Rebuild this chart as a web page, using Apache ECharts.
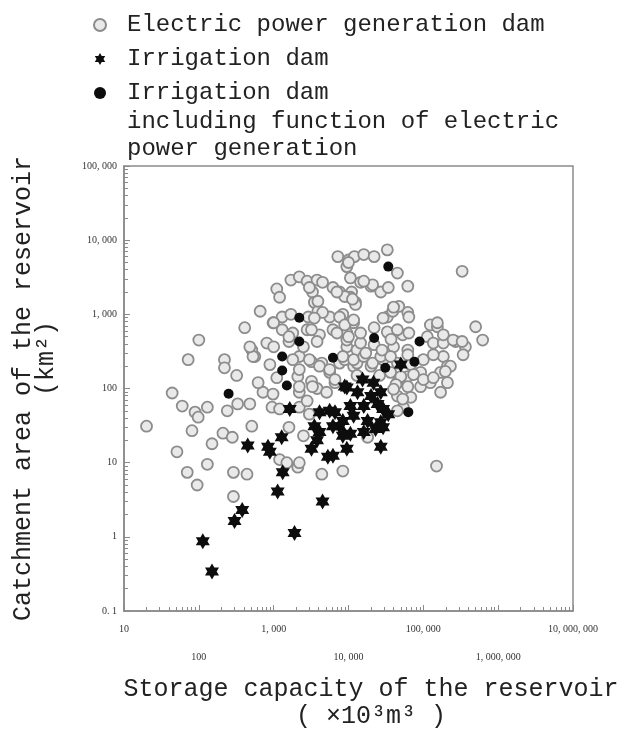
<!DOCTYPE html>
<html>
<head>
<meta charset="utf-8">
<title>Storage capacity vs catchment area of reservoirs</title>
<script src="https://cdn.jsdelivr.net/npm/echarts@6/dist/echarts.min.js"></script>
<style>
html, body { margin: 0; padding: 0; background: #fff; }
#chart { width: 622px; height: 735px; }
</style>
</head>
<body>
<div id="chart"></div>
<script>
// points are [storage capacity (x10^3 m3), catchment area (km2)]
const electricDams = [
  [20, 31], [44, 87], [60, 58], [89, 48], [98, 41], [130, 56], [81, 27], [210, 25], [280, 22], [150, 18],
  [51, 14], [130, 9.5], [70, 7.4], [95, 5], [240, 50], [330, 62], [480, 62], [510, 31], [290, 7.4], [440, 7],
  [290, 3.5], [1200, 11], [2100, 8.7], [4400, 7], [8400, 7.7], [720, 89], [980, 84], [1600, 30], [2500, 23],
  [1500, 10], [2200, 10], [950, 56], [1200, 53], [2200, 56], [3000, 45], [2200, 89], [2800, 68], [620, 120],
  [890, 210], [1100, 140], [560, 270], [220, 245], [220, 190], [320, 150], [2200, 270], [3200, 230], [4400, 220],
  [2100, 145], [3200, 125], [3800, 100], [18000, 22], [150000, 9],
  [7200, 6000], [10000, 5400], [12000, 6000], [9500, 4400], [1700, 2900], [2200, 3200], [2800, 2800], [3800, 2900],
  [1100, 2200], [1200, 1700], [3300, 2000], [3500, 1450], [6200, 2300], [7600, 2000], [10600, 3100], [11000, 2000],
  [12400, 1450], [660, 1100], [980, 770], [1300, 920], [1700, 1000], [2900, 920], [3900, 1100], [5600, 920],
  [8400, 1000], [410, 660], [1300, 620], [1800, 560], [2800, 620], [4100, 530], [6200, 620], [9500, 560],
  [100, 450], [810, 410], [1000, 365], [1600, 430], [2500, 365], [3800, 430], [9500, 365], [13000, 330],
  [72, 245], [510, 330], [530, 270], [1800, 245], [2200, 180], [3000, 245], [4100, 200], [5600, 165], [7600, 220],
  [11700, 200], [2200, 106], [3300, 106], [5100, 89], [6600, 120], [4500, 2700], [3000, 2300], [3900, 1500],
  [4500, 1060], [3500, 890], [1600, 500], [3200, 620], [480, 365],
  [16000, 6400], [22000, 6000], [33000, 7400], [45000, 3600], [62000, 2400], [330000, 3800], [14500, 2700],
  [20000, 2400], [27000, 2000], [34000, 2300], [10600, 1700], [12400, 1360], [7600, 920], [11700, 770],
  [47000, 1280], [62000, 1060], [33000, 920], [22000, 660], [34000, 560], [53000, 530], [124000, 720],
  [154000, 680], [500000, 680], [620000, 450], [9500, 450], [14500, 410], [22000, 390], [40000, 365], [62000, 330],
  [113000, 500], [136000, 410], [185000, 410], [270000, 430], [365000, 365], [340000, 285], [185000, 270],
  [210000, 200], [170000, 165], [8900, 245], [13000, 220], [20000, 200], [29000, 245], [45000, 220], [68000, 210],
  [92000, 165], [62000, 145], [45000, 120], [92000, 106], [124000, 120], [210000, 120], [170000, 89],
  [21000, 2500], [8900, 1740], [11300, 1600], [29000, 890], [39000, 1100], [64000, 920], [8900, 720], [7000, 560],
  [10000, 500], [14500, 560], [33000, 580], [45000, 620], [64000, 560], [185000, 530], [250000, 450], [330000, 430],
  [8400, 270], [11700, 245], [16000, 270], [21000, 220], [27000, 270], [36500, 270], [62000, 285], [100000, 245],
  [136000, 285], [230000, 200], [197000, 170], [36500, 165], [50000, 145], [74000, 154], [100000, 132],
  [136000, 140], [43000, 113], [62000, 106], [45000, 79], [68000, 76], [54000, 56], [45000, 50], [5600, 180],
  [6600, 132], [40000, 98], [53000, 72],
  [16000, 2800], [7000, 2000], [40000, 1250], [10000, 5000], [1000, 770], [11700, 840], [154000, 770],
  [37000, 460], [28000, 330], [17000, 300], [26000, 150], [13000, 150]
];

const irrigationDams = [
  [113, 0.87], [150, 0.34], [300, 1.64], [380, 2.3], [1900, 1.13], [450, 17], [840, 16.4], [890, 14], [1280, 22],
  [1320, 7.4], [1130, 4.1], [1640, 53], [4500, 3], [3200, 15.4], [5300, 12], [4100, 48], [6600, 48], [9500, 15.4],
  [9500, 103], [3500, 31], [4100, 26], [3800, 20], [7600, 31], [8400, 23], [11700, 43], [10600, 58], [50000, 210],
  [8900, 106], [15400, 132], [21600, 120], [27000, 89], [20000, 79], [13200, 89], [16000, 58], [24500, 62],
  [29000, 53], [34000, 45], [5600, 50], [6200, 31], [8400, 36.5], [18000, 36.5], [27000, 35], [10600, 24.5],
  [16000, 26], [23000, 28.5], [29000, 30], [6200, 12.4], [27000, 16.4]
];

const irrigationPowerDams = [
  [250, 85], [1500, 110], [1300, 175], [1300, 270], [2200, 430], [2200, 900], [6200, 260], [34000, 4400],
  [22000, 480], [89000, 430], [76000, 230], [31000, 190], [63000, 48]
];

const xTickLabels = ['10', '100', '1, 000', '10, 000', '100, 000', '1, 000, 000', '10, 000, 000'];
const yTickLabels = ['0. 1', '1', '10', '100', '1, 000', '10, 000', '100, 000'];

const names = [
  'Electric power generation dam',
  'Irrigation dam',
  'Irrigation dam including function of electric power generation'
];

const STAR = 'path://M10 0L12.89 5L18.66 5L15.77 10L18.66 15L12.89 15L10 20L7.11 15L1.34 15L4.23 10L1.34 5L7.11 5Z';
const MONO = 'Liberation Mono, Courier New, monospace';
const SERIF = 'Liberation Serif, Times New Roman, serif';

// 2..9 x 10^e between two decades, for the small log ticks
const minorTicks = (lo, hi) => {
  const out = [];
  for (let e = lo; e < hi; e++) {
    for (let m = 2; m <= 9; m++) out.push(+(m * Math.pow(10, e)).toPrecision(3));
  }
  return out;
};

const tickColor = '#8a8a8a';

const chart = echarts.init(document.getElementById('chart'));

chart.setOption({
  animation: false,
  backgroundColor: '#fff',
  legend: {
    orient: 'vertical',
    left: 93,
    top: 12,
    padding: 0,
    itemWidth: 44,
    itemHeight: 12,
    itemGap: 8,
    selectedMode: false,
    data: names,
    formatter: (name) => name === names[2] ? 'Irrigation dam' : name,
    textStyle: { fontFamily: MONO, fontSize: 24, lineHeight: 26, color: '#222' }
  },
  graphic: [{
    type: 'text',
    left: 127,
    top: 108,
    style: {
      text: 'including function of electric\npower generation',
      font: '24px ' + MONO,
      lineHeight: 27,
      fill: '#222'
    }
  }],
  grid: {
    left: 124, right: 49, top: 166, bottom: 122,
    show: true, borderColor: tickColor, borderWidth: 1.5
  },
  xAxis: [{
    type: 'log',
    min: 10,
    max: 10000000,
    name: 'Storage capacity of the reservoir\n( ×10³m³ )',
    nameLocation: 'middle',
    nameGap: 65,
    nameTextStyle: { fontFamily: MONO, fontSize: 25, lineHeight: 27, color: '#222', padding: [0, 0, 0, 45] },
    axisLine: { lineStyle: { color: tickColor, width: 1.5 } },
    axisTick: { inside: true, length: 6, lineStyle: { color: tickColor } },
    splitLine: { show: false },
    axisLabel: {
      interval: 0,
      margin: 11,
      fontFamily: SERIF,
      fontSize: 10,
      lineHeight: 14,
      color: '#333',
      formatter: (v) => {
        const e = Math.round(Math.log10(v));
        const s = xTickLabels[e - 1];
        return e % 2 === 0 ? '\n\n' + s : s;
      }
    }
  }, {
    type: 'log',
    min: 10,
    max: 10000000,
    position: 'bottom',
    axisLine: { show: false },
    axisLabel: { show: false },
    splitLine: { show: false },
    axisTick: { inside: true, length: 4, customValues: minorTicks(1, 7), lineStyle: { color: tickColor } }
  }],
  yAxis: [{
    type: 'log',
    min: 0.1,
    max: 100000,
    name: 'Catchment area of the reservoir\n    (km²)',
    nameLocation: 'middle',
    nameGap: 66,
    nameTextStyle: { fontFamily: MONO, fontSize: 25, lineHeight: 23, color: '#222' },
    axisLine: { lineStyle: { color: tickColor, width: 1.5 } },
    axisTick: { inside: true, length: 6, lineStyle: { color: tickColor } },
    splitLine: { show: false },
    axisLabel: {
      interval: 0,
      margin: 7,
      fontFamily: SERIF,
      fontSize: 10,
      color: '#333',
      formatter: (v) => yTickLabels[Math.round(Math.log10(v)) + 1]
    }
  }, {
    type: 'log',
    min: 0.1,
    max: 100000,
    position: 'left',
    axisLine: { show: false },
    axisLabel: { show: false },
    splitLine: { show: false },
    axisTick: { inside: true, length: 4, customValues: minorTicks(-1, 5), lineStyle: { color: tickColor } }
  }],
  series: [{
    name: names[0],
    type: 'scatter',
    data: electricDams,
    symbol: 'circle',
    symbolSize: 11,
    itemStyle: { color: '#e9e9e9', borderColor: '#8c8c8c', borderWidth: 1.8, opacity: 1 }
  }, {
    name: names[1],
    type: 'scatter',
    data: irrigationDams,
    symbol: STAR,
    symbolSize: [14, 16],
    itemStyle: { color: '#0d0d0d', opacity: 1 }
  }, {
    name: names[2],
    type: 'scatter',
    data: irrigationPowerDams,
    symbol: 'circle',
    symbolSize: 10,
    itemStyle: { color: '#0d0d0d', opacity: 1 }
  }]
});
</script>
</body>
</html>
